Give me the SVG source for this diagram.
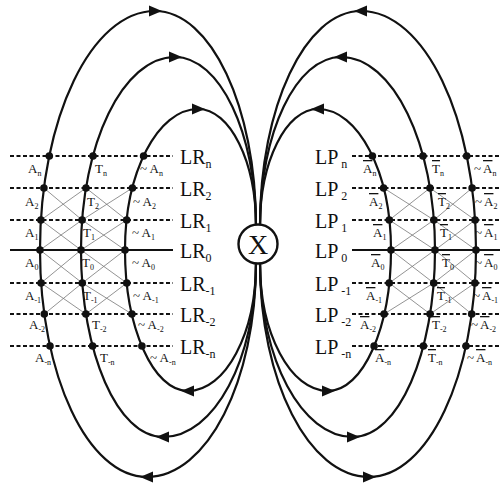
<svg xmlns="http://www.w3.org/2000/svg" xmlns:xlink="http://www.w3.org/1999/xlink" width="500" height="484" viewBox="0 0 500 484">
<style>
.cv{fill:none;stroke:#111;stroke-width:2.2}
.dash{stroke:#111;stroke-width:1.8;stroke-dasharray:4 2.5}
.solid{stroke:#111;stroke-width:1.8}
.xl{stroke:#777;stroke-width:0.8}
.dot{fill:#111}
.ah{fill:#111}
text{font-family:"Liberation Serif","Times New Roman",serif;fill:#111}
.big{font-size:20px}
.bsub{font-size:12px}
.sm{font-size:13px}
.ssub{font-size:8px}
.ov{text-decoration:overline}
</style>
<defs>
<path id="arrow" class="ah" d="M7,0 L-6,-5.5 L-6,5.5 Z"/>
</defs>
<rect width="500" height="484" fill="#fff"/>
<g id="grid">
<g id="rows-left">
<line class="dash" x1="10" y1="156" x2="173" y2="156"/>
<line class="dash" x1="10" y1="188" x2="173" y2="188"/>
<line class="dash" x1="10" y1="220" x2="173" y2="220"/>
<line class="solid" x1="10" y1="250" x2="173" y2="250"/>
<line class="dash" x1="10" y1="283" x2="173" y2="283"/>
<line class="dash" x1="10" y1="314" x2="173" y2="314"/>
<line class="dash" x1="10" y1="346" x2="173" y2="346"/>
</g>
<g id="rows-right">
<line class="dash" x1="352" y1="156" x2="500" y2="156"/>
<line class="dash" x1="352" y1="188" x2="500" y2="188"/>
<line class="dash" x1="352" y1="220" x2="500" y2="220"/>
<line class="solid" x1="352" y1="250" x2="500" y2="250"/>
<line class="dash" x1="352" y1="283" x2="500" y2="283"/>
<line class="dash" x1="352" y1="314" x2="500" y2="314"/>
<line class="dash" x1="352" y1="346" x2="500" y2="346"/>
</g>
</g>
<g id="connectors">
<g id="loops-left">
<g id="cross-left">
<line class="xl" x1="43.9" y1="188" x2="82.1" y2="220"/><line class="xl" x1="86" y1="188" x2="40.9" y2="220"/>
<line class="xl" x1="40.9" y1="220" x2="81" y2="250"/><line class="xl" x1="82.1" y1="220" x2="40" y2="250"/>
<line class="xl" x1="40" y1="250" x2="82.3" y2="283"/><line class="xl" x1="81" y1="250" x2="41.1" y2="283"/>
<line class="xl" x1="41.1" y1="283" x2="85.9" y2="314"/><line class="xl" x1="82.3" y1="283" x2="44.3" y2="314"/>
<line class="xl" x1="86" y1="188" x2="126.7" y2="220"/><line class="xl" x1="132.4" y1="188" x2="82.1" y2="220"/>
<line class="xl" x1="82.1" y1="220" x2="125" y2="250"/><line class="xl" x1="126.7" y1="220" x2="81" y2="250"/>
<line class="xl" x1="81" y1="250" x2="126.8" y2="283"/><line class="xl" x1="125" y1="250" x2="82.3" y2="283"/>
<line class="xl" x1="82.3" y1="283" x2="131.9" y2="314"/><line class="xl" x1="126.8" y1="283" x2="85.9" y2="314"/>
</g>
<path id="loop-outer" class="cv" d="M256,225 C256,106.8 210.8,11 155,11 C91.5,11 40,118 40,250 C40,375.4 87.9,477 147,477 C207.2,477 256,381.2 256,263"/>
<path id="loop-middle" class="cv" d="M256,226 C256,132.7 219.7,57 175,57 C123.1,57 81,143.4 81,250 C81,353.3 117.7,437 163,437 C214.4,437 256,359.1 256,263"/>
<path id="loop-inner" class="cv" d="M256,226 C256,161.4 230,109 198,109 C157.7,109 125,172.1 125,250 C125,327.9 153.2,391 188,391 C225.6,391 256,333.7 256,263"/>
<use xlink:href="#arrow" transform="translate(155,11)"/>
<use xlink:href="#arrow" transform="translate(175,57)"/>
<use xlink:href="#arrow" transform="translate(198,109)"/>
<use xlink:href="#arrow" transform="translate(147,477) rotate(180)"/>
<use xlink:href="#arrow" transform="translate(163,437) rotate(180)"/>
<use xlink:href="#arrow" transform="translate(188,391) rotate(180)"/>
<g id="dots-left">
<circle class="dot" cx="49.3" cy="156" r="3.8"/><circle class="dot" cx="43.9" cy="188" r="3.8"/><circle class="dot" cx="40.9" cy="220" r="3.8"/><circle class="dot" cx="40" cy="250" r="3.8"/><circle class="dot" cx="41.1" cy="283" r="3.8"/><circle class="dot" cx="44.3" cy="314" r="3.8"/><circle class="dot" cx="50" cy="346" r="3.8"/>
<circle class="dot" cx="93" cy="156" r="3.8"/><circle class="dot" cx="86" cy="188" r="3.8"/><circle class="dot" cx="82.1" cy="220" r="3.8"/><circle class="dot" cx="81" cy="250" r="3.8"/><circle class="dot" cx="82.3" cy="283" r="3.8"/><circle class="dot" cx="85.9" cy="314" r="3.8"/><circle class="dot" cx="92.6" cy="346" r="3.8"/>
<circle class="dot" cx="143.6" cy="156" r="3.8"/><circle class="dot" cx="132.4" cy="188" r="3.8"/><circle class="dot" cx="126.7" cy="220" r="3.8"/><circle class="dot" cx="125" cy="250" r="3.8"/><circle class="dot" cx="126.8" cy="283" r="3.8"/><circle class="dot" cx="131.9" cy="314" r="3.8"/><circle class="dot" cx="141.9" cy="346" r="3.8"/>
</g>
</g>
<use id="loops-right" xlink:href="#loops-left" transform="matrix(-1 0 0 1 516 0)"/>
</g>
<g id="node-x">
<circle cx="258" cy="244" r="19.5" fill="#fff" stroke="#111" stroke-width="2.4"/>
<text x="258" y="254" text-anchor="middle" style="font-size:28px">X</text>
</g>
<g id="labels-LR">
<text class="big" x="180" y="164">LR<tspan class="bsub" dy="4">n</tspan></text>
<text class="big" x="180" y="196">LR<tspan class="bsub" dy="4">2</tspan></text>
<text class="big" x="180" y="228">LR<tspan class="bsub" dy="4">1</tspan></text>
<text class="big" x="180" y="258">LR<tspan class="bsub" dy="4">0</tspan></text>
<text class="big" x="180" y="291">LR<tspan class="bsub" dy="4">-1</tspan></text>
<text class="big" x="180" y="322">LR<tspan class="bsub" dy="4">-2</tspan></text>
<text class="big" x="180" y="354">LR<tspan class="bsub" dy="4">-n</tspan></text>
</g>
<g id="labels-LP">
<text class="big" x="315" y="164">LP<tspan class="bsub" dy="4"> n</tspan></text>
<text class="big" x="315" y="196">LP<tspan class="bsub" dy="4"> 2</tspan></text>
<text class="big" x="315" y="228">LP<tspan class="bsub" dy="4"> 1</tspan></text>
<text class="big" x="315" y="258">LP<tspan class="bsub" dy="4"> 0</tspan></text>
<text class="big" x="315" y="291">LP<tspan class="bsub" dy="4"> -1</tspan></text>
<text class="big" x="315" y="322">LP<tspan class="bsub" dy="4"> -2</tspan></text>
<text class="big" x="315" y="354">LP<tspan class="bsub" dy="4"> -n</tspan></text>
</g>
<g id="labels-A">
<text class="sm" x="28" y="173">A<tspan class="ssub" dy="3">n</tspan></text>
<text class="sm" x="25" y="206">A<tspan class="ssub" dy="3">2</tspan></text>
<text class="sm" x="25" y="237">A<tspan class="ssub" dy="3">1</tspan></text>
<text class="sm" x="25" y="267">A<tspan class="ssub" dy="3">0</tspan></text>
<text class="sm" x="25" y="300">A<tspan class="ssub" dy="3">-1</tspan></text>
<text class="sm" x="29" y="329">A<tspan class="ssub" dy="3">-2</tspan></text>
<text class="sm" x="35" y="362">A<tspan class="ssub" dy="3">-n</tspan></text>
</g>
<g id="labels-T">
<text class="sm" x="95" y="173">T<tspan class="ssub" dy="3">n</tspan></text>
<text class="sm" x="87" y="206">T<tspan class="ssub" dy="3">2</tspan></text>
<text class="sm" x="83" y="237">T<tspan class="ssub" dy="3">1</tspan></text>
<text class="sm" x="82" y="267">T<tspan class="ssub" dy="3">0</tspan></text>
<text class="sm" x="83" y="300">T<tspan class="ssub" dy="3">-1</tspan></text>
<text class="sm" x="92" y="329">T<tspan class="ssub" dy="3">-2</tspan></text>
<text class="sm" x="100" y="362">T<tspan class="ssub" dy="3">-n</tspan></text>
</g>
<g id="labels-notA">
<text class="sm" x="140" y="173">~ A<tspan class="ssub" dy="3">n</tspan></text>
<text class="sm" x="133" y="206">~ A<tspan class="ssub" dy="3">2</tspan></text>
<text class="sm" x="132" y="237">~ A<tspan class="ssub" dy="3">1</tspan></text>
<text class="sm" x="132" y="267">~ A<tspan class="ssub" dy="3">0</tspan></text>
<text class="sm" x="133" y="300">~ A<tspan class="ssub" dy="3">-1</tspan></text>
<text class="sm" x="138" y="329">~ A<tspan class="ssub" dy="3">-2</tspan></text>
<text class="sm" x="150" y="362">~ A<tspan class="ssub" dy="3">-n</tspan></text>
</g>
<g id="labels-Abar">
<text class="sm" x="363" y="173"><tspan class="ov">A</tspan><tspan class="ssub" dy="3">n</tspan></text>
<text class="sm" x="369" y="206"><tspan class="ov">A</tspan><tspan class="ssub" dy="3">2</tspan></text>
<text class="sm" x="373" y="237"><tspan class="ov">A</tspan><tspan class="ssub" dy="3">1</tspan></text>
<text class="sm" x="371" y="267"><tspan class="ov">A</tspan><tspan class="ssub" dy="3">0</tspan></text>
<text class="sm" x="366" y="300"><tspan class="ov">A</tspan><tspan class="ssub" dy="3">-1</tspan></text>
<text class="sm" x="360" y="329"><tspan class="ov">A</tspan><tspan class="ssub" dy="3">-2</tspan></text>
<text class="sm" x="375" y="362"><tspan class="ov">A</tspan><tspan class="ssub" dy="3">-n</tspan></text>
</g>
<g id="labels-Tbar">
<text class="sm" x="432" y="173"><tspan class="ov">T</tspan><tspan class="ssub" dy="3">n</tspan></text>
<text class="sm" x="438" y="206"><tspan class="ov">T</tspan><tspan class="ssub" dy="3">2</tspan></text>
<text class="sm" x="440" y="237"><tspan class="ov">T</tspan><tspan class="ssub" dy="3">1</tspan></text>
<text class="sm" x="442" y="267"><tspan class="ov">T</tspan><tspan class="ssub" dy="3">0</tspan></text>
<text class="sm" x="437" y="300"><tspan class="ov">T</tspan><tspan class="ssub" dy="3">-1</tspan></text>
<text class="sm" x="432" y="329"><tspan class="ov">T</tspan><tspan class="ssub" dy="3">-2</tspan></text>
<text class="sm" x="428" y="362"><tspan class="ov">T</tspan><tspan class="ssub" dy="3">-n</tspan></text>
</g>
<g id="labels-notAbar">
<text class="sm" x="474" y="173">~<tspan class="ov" dx="2">A</tspan><tspan class="ssub" dy="3">n</tspan></text>
<text class="sm" x="475" y="206">~<tspan class="ov" dx="2">A</tspan><tspan class="ssub" dy="3">2</tspan></text>
<text class="sm" x="475" y="237">~<tspan class="ov" dx="2">A</tspan><tspan class="ssub" dy="3">1</tspan></text>
<text class="sm" x="475" y="267">~<tspan class="ov" dx="2">A</tspan><tspan class="ssub" dy="3">0</tspan></text>
<text class="sm" x="473" y="300">~<tspan class="ov" dx="2">A</tspan><tspan class="ssub" dy="3">-1</tspan></text>
<text class="sm" x="471" y="329">~<tspan class="ov" dx="2">A</tspan><tspan class="ssub" dy="3">-2</tspan></text>
<text class="sm" x="467" y="362">~<tspan class="ov" dx="2">A</tspan><tspan class="ssub" dy="3">-n</tspan></text>
</g>
</svg>
